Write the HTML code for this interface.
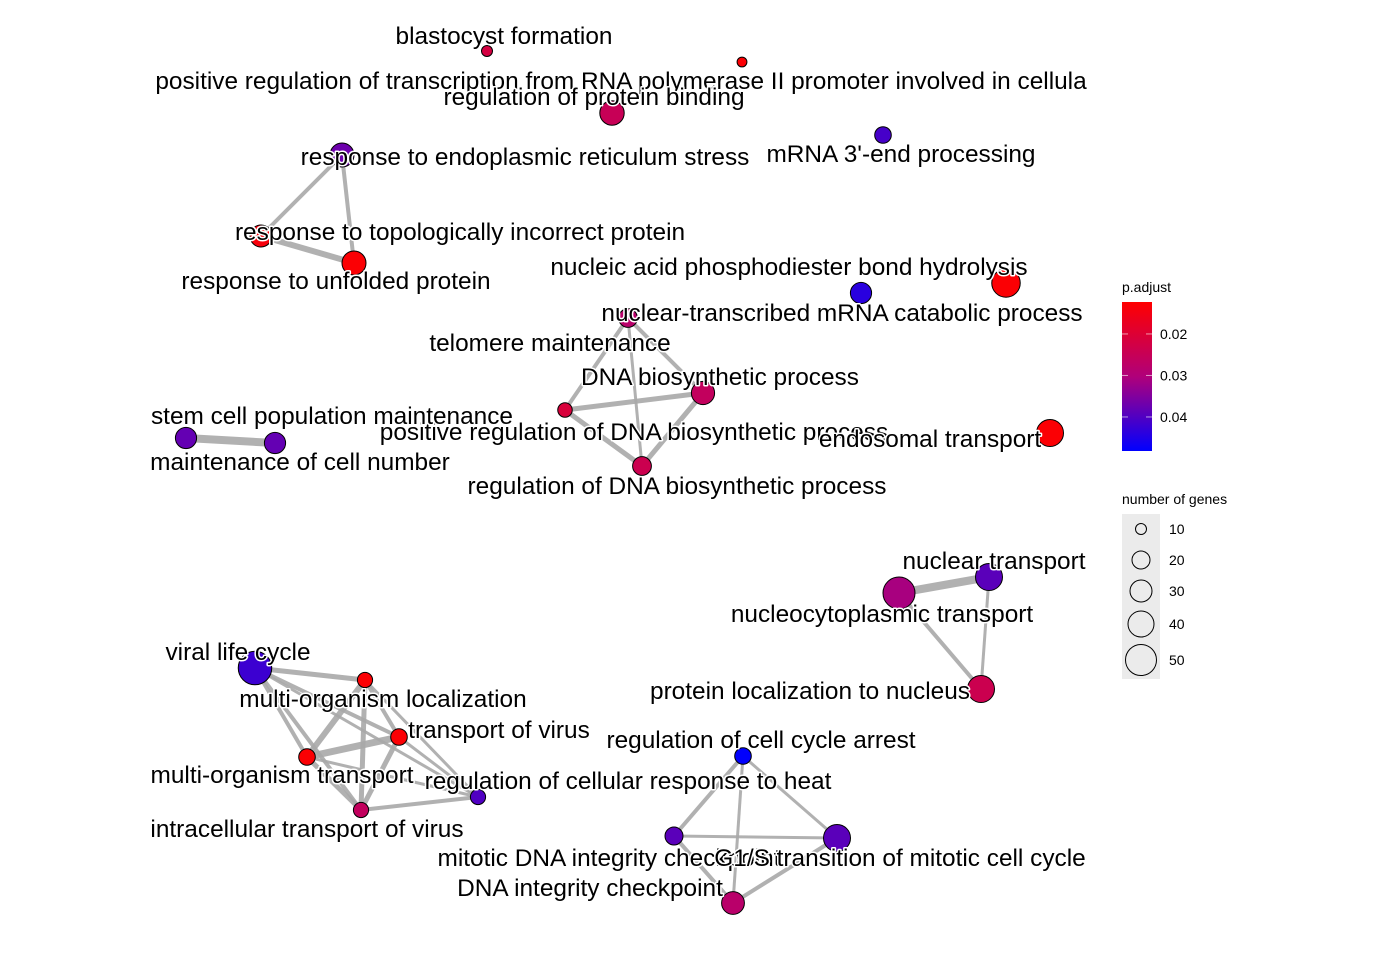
<!DOCTYPE html>
<html><head><meta charset="utf-8"><style>
html,body{margin:0;padding:0;background:#fff;}
svg{display:block;font-family:"Liberation Sans",Arial,sans-serif;}
</style></head><body>
<svg id="chart" width="1400" height="960" viewBox="0 0 1400 960">
<g id="edges"></g>
<g id="nodes"></g>
<g id="labels"></g>
<g id="legend">
  <defs><linearGradient id="grad" x1="0" y1="0" x2="0" y2="1">
    <stop offset="0" stop-color="#ff0000"/><stop offset="0.5" stop-color="#b0007a"/><stop offset="1" stop-color="#0000ff"/>
  </linearGradient></defs>
  <text x="1122" y="292" font-size="14">p.adjust</text>
  <rect x="1122" y="302" width="30" height="149" fill="url(#grad)"/>
  <text x="1122" y="504" font-size="14">number of genes</text>
  <rect x="1122" y="514" width="38" height="165" fill="#ebebeb"/>
</g>
</svg>
<script>
const NS="http://www.w3.org/2000/svg";
const termNames=["blastocyst formation","positive regulation of transcription from RNA polymerase II promoter involved in cellula","regulation of protein binding","mRNA 3'-end processing","response to endoplasmic reticulum stress","response to topologically incorrect protein","response to unfolded protein","nucleic acid phosphodiester bond hydrolysis","nuclear-transcribed mRNA catabolic process","telomere maintenance","DNA biosynthetic process","positive regulation of DNA biosynthetic process","regulation of DNA biosynthetic process","stem cell population maintenance","maintenance of cell number","endosomal transport","nuclear transport","nucleocytoplasmic transport","protein localization to nucleus","viral life cycle","multi-organism localization","transport of virus","multi-organism transport","regulation of cellular response to heat","intracellular transport of virus","regulation of cell cycle arrest","mitotic DNA integrity checkpoint","G1/S transition of mitotic cell cycle","DNA integrity checkpoint"];
const nodeX=[487,742,612,883,342,261,354,1006,861,628,703,565,642,186,275,1050,989,899,981,255,365,399,307,478,361,743,674,837,733];
const nodeY=[51,62,113,135,155,236,263,283,293,318,393,410,466,438,443,433,577,593,689,668,680,737,757,797,810,756,836,838,903];
const pAdjust=[0.022,0.013,0.025,0.041,0.037,0.014,0.013,0.013,0.044,0.028,0.026,0.021,0.024,0.038,0.038,0.013,0.039,0.031,0.024,0.042,0.013,0.013,0.013,0.040,0.026,0.048,0.039,0.039,0.028];
const geneCount=[10,8,36,18,35,30,35,45,28,22,33,15,22,28,28,42,42,52,42,55,16,18,18,16,16,18,20,42,32];
const labelX=[504,621,594,525,901,460,336,789,842,550,720,634,677,332,300,930,994,882,810,238,383,499,282,628,307,761,609,900,590];
const labelY=[44,89,105,165,162,240,289,275,321,351,385,440,494,424,470,447,569,622,699,660,707,738,783,789,837,748,866,866,896];
const labelIdx=[0,1,2,4,3,5,6,7,8,9,10,11,12,13,14,15,16,17,18,19,20,21,22,23,24,25,26,27,28];
const edgeFrom=[4,4,5,9,9,9,10,10,11,13,16,17,16,19,19,19,19,19,20,20,20,20,22,22,21,21,22,24,25,25,25,26,26,27];
const edgeTo  =[5,6,6,10,11,12,11,12,12,14,17,18,18,20,21,22,24,23,22,21,24,23,21,24,24,23,23,23,26,27,28,27,28,28];
const edgeW   =[4,4,6,4,4,3,5,5,5,8,8,4,3,5,4,4,4,3,6,4,5,3,7,5,5,3,3,4,4,3,3,3,4,4];
const legendGenes=[10,20,30,40,50];
const legendR=[5.5,9,11,13,15.5];
const legendTicks=[0.02,0.03,0.04];
function rOf(n){if(n<=legendGenes[0])return legendR[0]*Math.sqrt(n/legendGenes[0]);
 for(let i=1;i<legendGenes.length;i++){if(n<=legendGenes[i]){const t=(n-legendGenes[i-1])/(legendGenes[i]-legendGenes[i-1]);return legendR[i-1]+t*(legendR[i]-legendR[i-1]);}}
 return legendR[4]+(n-50)*0.25;}
const pMin=0.0123,pMax=0.0482;
function yP(p){return 302+(p-pMin)/(pMax-pMin)*149;}
function col(p){let t=(p-pMin)/(pMax-pMin);t=Math.max(0,Math.min(1,t));
 let r,g,b;if(t<0.5){const u=t/0.5;r=255-u*(255-176);g=0;b=u*122;}else{const u=(t-0.5)/0.5;r=176-u*176;g=0;b=122+u*(255-122);}
 return `rgb(${r|0},${g|0},${b|0})`;}
const E=document.getElementById('edges'),N=document.getElementById('nodes'),L=document.getElementById('labels'),G=document.getElementById('legend');
edgeFrom.forEach((a,i)=>{const b=edgeTo[i];const l=document.createElementNS(NS,'line');
 l.setAttribute('x1',nodeX[a]);l.setAttribute('y1',nodeY[a]);l.setAttribute('x2',nodeX[b]);l.setAttribute('y2',nodeY[b]);
 l.setAttribute('stroke','#a8a8a8');l.setAttribute('stroke-opacity','0.9');l.setAttribute('stroke-width',edgeW[i]);
 
 
 E.appendChild(l);});
nodeX.forEach((x,i)=>{const c=document.createElementNS(NS,'circle');
 c.setAttribute('cx',x);c.setAttribute('cy',nodeY[i]);c.setAttribute('r',rOf(geneCount[i]));
 c.setAttribute('fill',col(pAdjust[i]));c.setAttribute('stroke','#000');c.setAttribute('stroke-width','1');
 
 
 N.appendChild(c);});
labelIdx.forEach((k,i)=>{const t=document.createElementNS(NS,'text');
 t.setAttribute('x',labelX[i]);t.setAttribute('y',labelY[i]);t.setAttribute('text-anchor','middle');
 t.setAttribute('font-size','24.4');t.setAttribute('fill','#000');t.setAttribute('stroke','#fff');t.setAttribute('stroke-width','3');
 t.setAttribute('paint-order','stroke');t.setAttribute('stroke-linejoin','round');
 t.textContent=termNames[k];
 
 
 L.appendChild(t);});
legendTicks.forEach(p=>{const y=yP(p);
 [1122,1146].forEach(x0=>{const l=document.createElementNS(NS,'line');l.setAttribute('x1',x0);l.setAttribute('x2',x0+6);l.setAttribute('y1',y);l.setAttribute('y2',y);l.setAttribute('stroke','#fff');l.setAttribute('stroke-opacity','0.6');
 
 
 G.appendChild(l);});
 const t=document.createElementNS(NS,'text');t.setAttribute('x',1160);t.setAttribute('y',y+5);t.setAttribute('font-size','14');t.textContent=p.toFixed(2);
 
 
 G.appendChild(t);});
const legY=[529,560,591,624,660];
legendGenes.forEach((n,i)=>{const c=document.createElementNS(NS,'circle');c.setAttribute('cx',1141);c.setAttribute('cy',legY[i]);c.setAttribute('r',legendR[i]);c.setAttribute('fill','none');c.setAttribute('stroke','#000');
 
 
 G.appendChild(c);
 const t=document.createElementNS(NS,'text');t.setAttribute('x',1169);t.setAttribute('y',legY[i]+5);t.setAttribute('font-size','14');t.textContent=n;
 
 
 G.appendChild(t);});
</script>
</body></html>
